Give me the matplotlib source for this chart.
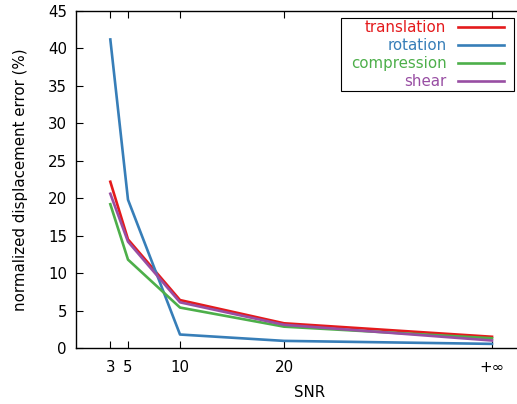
import matplotlib
matplotlib.use("Agg")
import matplotlib.pyplot as plt

# positions on the x axis (+inf drawn at 40)
snr_pos = [3.3, 5, 10, 20, 40]
snr_labels = ["3", "5", "10", "20", "+∞"]

translation = [22.2, 14.5, 6.4, 3.3, 1.5]
rotation = [41.2, 19.8, 1.8, 0.95, 0.55]
compression = [19.2, 11.8, 5.4, 2.85, 1.3]
shear = [20.6, 14.2, 6.1, 3.1, 1.0]

series = [
    ("translation", translation, "#e41a1c"),
    ("rotation", rotation, "#377eb8"),
    ("compression", compression, "#4daf4a"),
    ("shear", shear, "#984ea3"),
]

plt.rcParams["font.family"] = "DejaVu Sans"
plt.rcParams["font.size"] = 10.8

fig = plt.figure(figsize=(5.17, 4.04), dpi=100)
ax = fig.add_axes([76 / 517, 56 / 404, 468 / 517, 337 / 404])

for name, vals, col in series:
    ax.plot(snr_pos, vals, color=col, lw=1.9, label=name)

ax.set_xlim(0, 45)
ax.set_ylim(0, 45)
ax.set_xticks(snr_pos)
ax.set_xticklabels(snr_labels)
ax.set_yticks(range(0, 46, 5))
ax.tick_params(direction="in", length=5, top=True, right=True, width=0.8)
ax.tick_params(axis="x", pad=9)
ax.tick_params(axis="y", pad=6.5)
for s in ax.spines.values():
    s.set_linewidth(1.0)

ax.set_xlabel("SNR", labelpad=7)
ax.set_ylabel("normalized displacement error (%)", labelpad=14)

# legend frame is wider than tall padding (gnuplot style key)
leg = ax.legend(loc="upper right", bbox_to_anchor=(506 / 517, 1 - 18 / 404),
                bbox_transform=fig.transFigure, markerfirst=False,
                labelcolor="linecolor", fancybox=False, framealpha=1,
                edgecolor="black", handlelength=3.1, labelspacing=0.2,
                borderaxespad=0, borderpad=0.12, handletextpad=0.75)
frame = leg.get_frame()
frame.set_linewidth(0.8)
frame.set_boxstyle("square", pad=0.5)
frame.set_mutation_aspect(0.02)

fig.savefig("out.png", dpi=100)
